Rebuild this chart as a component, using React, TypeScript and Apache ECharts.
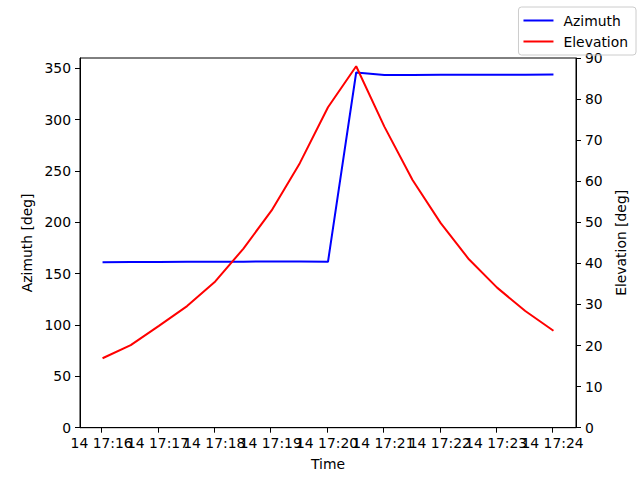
import React, { useEffect, useRef } from "react";
import * as echarts from "echarts";

const times = [
  "17:16:01", "17:16:31", "17:17:01", "17:17:31", "17:18:01", "17:18:31",
  "17:19:01", "17:19:31", "17:20:01", "17:20:31", "17:21:01", "17:21:31",
  "17:22:01", "17:22:31", "17:23:01", "17:23:31", "17:24:01",
];
const azimuth = [
  161.2, 161.3, 161.4, 161.5, 161.6, 161.7, 161.8, 161.8, 161.6,
  345.9, 343.5, 343.5, 343.6, 343.6, 343.7, 343.8, 343.9,
];
const elevation = [
  16.9, 20.1, 24.8, 29.6, 35.6, 43.6, 52.9, 64.4, 78.0,
  88.0, 73.3, 60.3, 49.8, 41.0, 34.1, 28.4, 23.6,
];
const xTickLabels = [
  "14 17:16", "14 17:17", "14 17:18", "14 17:19", "14 17:20",
  "14 17:21", "14 17:22", "14 17:23", "14 17:24",
];
const leftTicks = [0, 50, 100, 150, 200, 250, 300, 350];

const BASE = 17 * 3600 + 16 * 60;
const toSec = (t: string) => {
  const [h, m, s] = t.split(":").map(Number);
  return h * 3600 + m * 60 + s - BASE;
};
const xTickValues = xTickLabels.map((l) => toSec(l.split(" ")[1] + ":00"));
const evenVals = xTickValues.filter((_, i) => i % 2 === 0);
const oddVals = xTickValues.filter((_, i) => i % 2 === 1);

const FONT = "DejaVu Sans";
const FS = 13.9;

export default function App() {
  const ref = useRef<HTMLDivElement>(null);
  useEffect(() => {
    if (!ref.current) return;
    const chart = echarts.init(ref.current, undefined, { renderer: "svg" });
    const txt = { fontFamily: FONT, fontSize: FS, color: "#000" };
    const fmt = (v: number) => {
      const i = xTickValues.indexOf(v);
      return i >= 0 ? xTickLabels[i] : "";
    };
    chart.setOption({
      animation: false,
      backgroundColor: "#fff",
      grid: {
        left: 80, right: 64, top: 58, bottom: 52.3,
        show: true, borderColor: "#000", borderWidth: 1, backgroundColor: "transparent",
      },
      legend: {
        right: 4, top: 7, orient: "vertical", icon: "rect",
        padding: [5, 8, 5, 5], itemGap: 4, itemWidth: 30, itemHeight: 2,
        borderColor: "#cccccc", borderWidth: 1, borderRadius: 3,
        textStyle: { ...txt, padding: [0, 0, 0, 5], lineHeight: 17 },
        data: ["Azimuth", "Elevation"],
      },
      xAxis: [
        {
          type: "value", min: -23, max: 505, position: "bottom",
          name: "Time", nameLocation: "middle", nameGap: 29,
          nameTextStyle: txt,
          axisLine: { show: true, onZero: false, lineStyle: { color: "#000", width: 1 } },
          axisTick: { show: true, length: 5, customValues: xTickValues, lineStyle: { color: "#000" } },
          axisLabel: {
            ...txt, margin: 8, customValues: evenVals, hideOverlap: false,
            showMinLabel: true, showMaxLabel: true, formatter: fmt,
          },
          splitLine: { show: false },
        },
        {
          type: "value", min: -23, max: 505, position: "bottom", offset: 0,
          axisLine: { show: false, onZero: false },
          axisTick: { show: false },
          axisLabel: {
            ...txt, margin: 8, customValues: oddVals, hideOverlap: false,
            showMinLabel: true, showMaxLabel: true, formatter: fmt,
          },
          splitLine: { show: false },
        },
      ],
      yAxis: [
        {
          type: "value", min: 0, max: 360, position: "left",
          name: "Azimuth [deg]", nameLocation: "middle", nameGap: 40, nameRotate: 90,
          nameTextStyle: txt,
          axisLine: { show: true, onZero: false, lineStyle: { color: "#000", width: 1 } },
          axisTick: { show: true, length: 5, customValues: leftTicks, lineStyle: { color: "#000" } },
          axisLabel: { ...txt, margin: 9, customValues: leftTicks, showMinLabel: true, showMaxLabel: true },
          splitLine: { show: false },
        },
        {
          type: "value", min: 0, max: 90, interval: 10, position: "right",
          name: "Elevation [deg]", nameLocation: "middle", nameGap: 34, nameRotate: 90,
          nameTextStyle: txt,
          axisLine: { show: true, onZero: false, lineStyle: { color: "#000", width: 1 } },
          axisTick: { show: true, length: 5, lineStyle: { color: "#000" } },
          axisLabel: { ...txt, margin: 9, showMinLabel: true, showMaxLabel: true },
          splitLine: { show: false },
        },
      ],
      series: [
        {
          name: "Azimuth", type: "line", xAxisIndex: 0, yAxisIndex: 0, symbol: "none",
          color: "#0000ff", lineStyle: { color: "#0000ff", width: 2 },
          data: times.map((t, i) => [toSec(t), azimuth[i]]),
        },
        {
          name: "Elevation", type: "line", xAxisIndex: 0, yAxisIndex: 1, symbol: "none",
          color: "#ff0000", lineStyle: { color: "#ff0000", width: 2 },
          data: times.map((t, i) => [toSec(t), elevation[i]]),
        },
      ],
    });
    return () => chart.dispose();
  }, []);
  return <div ref={ref} style={{ width: 640, height: 480, position: "absolute", left: 0, top: 0 }} />;
}
